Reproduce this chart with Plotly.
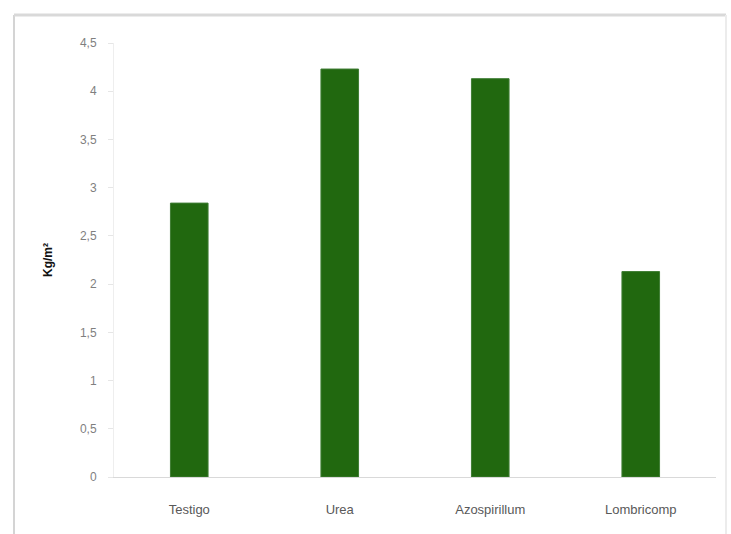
import plotly.graph_objects as go

# Rendimiento por tratamiento
tratamientos = ["Testigo", "Urea", "Azospirillum", "Lombricomp"]
rendimiento = [2.84, 4.23, 4.13, 2.13]
y_ticks = [0, 0.5, 1, 1.5, 2, 2.5, 3, 3.5, 4, 4.5]

W, H = 731, 534
L, R, T, B = 114, 15, 43, 57
pw, ph = W - L - R, H - T - B


def px_x(x):
    return (x - L) / pw


def px_y(y):
    return (H - B - y) / ph


fig = go.Figure(
    go.Bar(
        x=tratamientos,
        y=rendimiento,
        marker=dict(color="#21680f", line=dict(color="#3f7d34", width=1)),
        width=0.25,
    )
)

fig.update_layout(
    width=W,
    height=H,
    margin=dict(l=L, r=R, t=T, b=B),
    paper_bgcolor="white",
    plot_bgcolor="white",
    separators=", ",
    showlegend=False,
    font=dict(family="Liberation Sans, Arial, sans-serif", color="#595959"),
    shapes=[
        # outer chart frame
        dict(type="line", xref="paper", yref="paper",
             x0=px_x(14), x1=px_x(14), y0=px_y(15), y1=px_y(540),
             line=dict(color="#d4d4d4", width=2)),
        dict(type="line", xref="paper", yref="paper",
             x0=px_x(14), x1=px_x(726), y0=px_y(15), y1=px_y(15),
             line=dict(color="#d9d9d9", width=3)),
        dict(type="line", xref="paper", yref="paper",
             x0=px_x(726), x1=px_x(726), y0=px_y(15), y1=px_y(540),
             line=dict(color="#ececec", width=2)),
    ],
)

fig.update_xaxes(
    showgrid=False,
    showline=True,
    linecolor="#d9d9d9",
    linewidth=1,
    ticks="",
    tickfont=dict(size=13, color="#595959"),
    ticklabelstandoff=20,
)

fig.update_yaxes(
    range=[0, 4.5],
    tickvals=y_ticks,
    showgrid=False,
    showline=True,
    linecolor="#eeeeee",
    linewidth=1,
    ticks="outside",
    ticklen=5,
    tickcolor="#e6e6e6",
    tickfont=dict(size=12, color="#7f7f7f"),
    ticklabelstandoff=9,
    zeroline=False,
    title=dict(text="<b>Kg/m²</b>", font=dict(size=12, color="#111111"), standoff=24),
)

fig.write_html("out.html")
